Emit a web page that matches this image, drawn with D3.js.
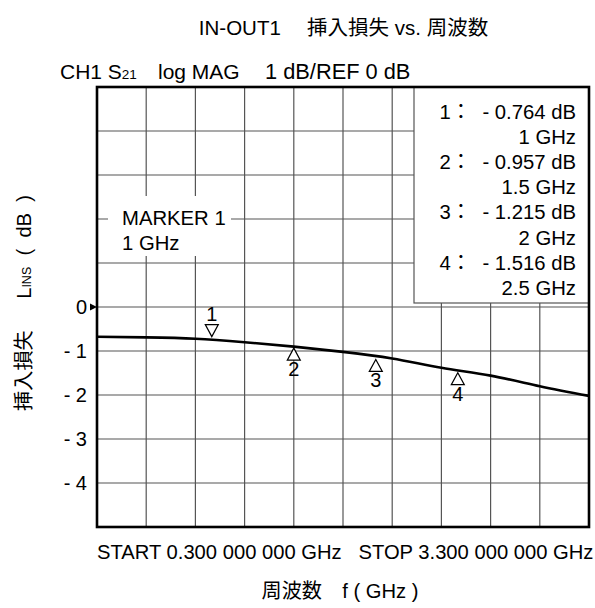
<!DOCTYPE html>
<html>
<head>
<meta charset="utf-8">
<script src="https://cdn.jsdelivr.net/npm/d3@7"></script>
<style>
  body { margin: 0; background: #fff; }
  text { font-family: "Liberation Sans", Arial, "Noto Sans CJK JP", sans-serif; fill: #000; white-space: pre; }
</style>
</head>
<body>
<script>
let width = 595
let height = 608

// plot frame
let plotLeft = 97, plotRight = 589, plotTop = 87, plotBottom = 527

// trace
let freq = [0.3, 0.6, 0.9, 1.2, 1.5, 1.8, 2.1, 2.4, 2.7, 3.0, 3.3]
let loss = [-0.675, -0.69, -0.72, -0.80, -0.90, -1.02, -1.17, -1.38, -1.56, -1.80, -2.02]

// markers
let markerId = ["1", "2", "3", "4"]
let markerFreq = [1, 1.5, 2, 2.5]
let markerVal = [-0.764, -0.957, -1.215, -1.516]
let markerFreqLabel = ["1 GHz", "1.5 GHz", "2 GHz", "2.5 GHz"]

let yTicks = [0, -1, -2, -3, -4]
let yTickLabels = ["0", "- 1", "- 2", "- 3", "- 4"]

let svg = d3.select("body").append("svg")
    .attr("width", width)
    .attr("height", height)

let x = d3.scaleLinear().domain([0.3, 3.3]).range([plotLeft, plotRight])
let y = d3.scaleLinear().domain([5, -5]).range([plotTop, plotBottom])

// grid, 10 x 10 divisions
let g = svg.append("g")
g.selectAll("line.v")
    .data(d3.range(1, 10))
    .enter().append("line")
    .attr("x1", d => x(0.3 + d * 0.3)).attr("x2", d => x(0.3 + d * 0.3))
    .attr("y1", plotTop).attr("y2", plotBottom)
    .attr("stroke", "#555").attr("stroke-width", 1.2)
g.selectAll("line.h")
    .data(d3.range(-4, 5))
    .enter().append("line")
    .attr("x1", plotLeft).attr("x2", plotRight)
    .attr("y1", d => y(d)).attr("y2", d => y(d))
    .attr("stroke", "#555").attr("stroke-width", 1.2)

// marker 1 note box
svg.append("rect")
    .attr("x", 108).attr("y", 196).attr("width", 123).attr("height", 60)
    .attr("fill", "#fff")
svg.append("text").attr("x", 122).attr("y", 225).attr("font-size", 20.3).text("MARKER 1")
svg.append("text").attr("x", 122).attr("y", 250).attr("font-size", 20.3).text("1 GHz")

// marker readout box
svg.append("rect")
    .attr("x", 414).attr("y", plotTop).attr("width", plotRight - 414).attr("height", 303 - plotTop)
    .attr("fill", "#fff").attr("stroke", "#555").attr("stroke-width", 1.2)

let rows = []
markerId.forEach((m, i) => {
    rows.push(m + "：  - " + Math.abs(markerVal[i]).toFixed(3) + " dB")
    rows.push(markerFreqLabel[i])
})
svg.selectAll("text.readout")
    .data(rows)
    .enter().append("text")
    .attr("class", "readout")
    .attr("x", 576)
    .attr("y", (d, i) => 119 + i * 25.1)
    .attr("text-anchor", "end")
    .attr("font-size", 20.3)
    .text(d => d)

// trace
let line = d3.line()
    .x(d => x(d[0]))
    .y(d => y(d[1]))
    .curve(d3.curveNatural)
svg.append("path")
    .datum(d3.zip(freq, loss))
    .attr("d", line)
    .attr("fill", "none")
    .attr("stroke", "#000")
    .attr("stroke-width", 2.6)

// marker triangles: 1 points down above trace, others point up below it
let mk = svg.append("g")
markerId.forEach((m, i) => {
    let cx = x(markerFreq[i])
    let cy = y(markerVal[i])
    if (i == 0) {
        let apex = cy - 4
        mk.append("path")
            .attr("d", `M${cx - 6.5},${apex - 12}L${cx + 6.5},${apex - 12}L${cx},${apex}Z`)
            .attr("fill", "#fff").attr("stroke", "#000").attr("stroke-width", 1.2)
        mk.append("text").attr("x", cx).attr("y", apex - 16)
            .attr("text-anchor", "middle").attr("font-size", 20).text(m)
    } else {
        let apex = cy - 1
        mk.append("path")
            .attr("d", `M${cx - 6.5},${apex + 12}L${cx + 6.5},${apex + 12}L${cx},${apex}Z`)
            .attr("fill", "#fff").attr("stroke", "#000").attr("stroke-width", 1.2)
        mk.append("text").attr("x", cx).attr("y", apex + 28)
            .attr("text-anchor", "middle").attr("font-size", 20).text(m)
    }
})

// frame
svg.append("rect")
    .attr("x", plotLeft).attr("y", plotTop)
    .attr("width", plotRight - plotLeft).attr("height", plotBottom - plotTop)
    .attr("fill", "none").attr("stroke", "#000").attr("stroke-width", 2.6)

// y tick labels + reference arrow
svg.selectAll("text.ytick")
    .data(yTicks)
    .enter().append("text")
    .attr("class", "ytick")
    .attr("x", 87)
    .attr("y", d => y(d))
    .attr("dy", "0.36em")
    .attr("text-anchor", "end")
    .attr("font-size", 20)
    .text((d, i) => yTickLabels[i])
svg.append("path")
    .attr("d", `M${plotLeft - 7},${y(0) - 3.5}L${plotLeft},${y(0)}L${plotLeft - 7},${y(0) + 3.5}Z`)
    .attr("fill", "#000")

// titles
svg.append("text").attr("x", 343.5).attr("y", 35)
    .attr("text-anchor", "middle").attr("font-size", 20.5)
    .text("IN-OUT1　 挿入損失 vs. 周波数")

let hdr = svg.append("text").attr("x", 60).attr("y", 79).attr("font-size", 21)
hdr.append("tspan").text("CH1 S")
hdr.append("tspan").attr("font-size", 13.5).text("21")
svg.append("text").attr("x", 158).attr("y", 79).attr("font-size", 21).text("log MAG")
svg.append("text").attr("x", 265).attr("y", 79).attr("font-size", 21.8).text("1 dB/REF 0 dB")

svg.append("text").attr("x", 97).attr("y", 559).attr("font-size", 20.2)
    .text("START 0.300 000 000 GHz   STOP 3.300 000 000 GHz")

svg.append("text").attr("x", 340).attr("y", 598)
    .attr("text-anchor", "middle").attr("font-size", 20.2)
    .text("周波数　f ( GHz )")

let ylab = svg.append("text")
    .attr("transform", "translate(31,411) rotate(-90)")
    .attr("text-anchor", "start")
    .attr("font-size", 20.2)
ylab.append("tspan").text("挿入損失　  L")
ylab.append("tspan").attr("font-size", 12.5).text("INS")
ylab.append("tspan").text("  (  dB  )")
</script>
</body>
</html>
